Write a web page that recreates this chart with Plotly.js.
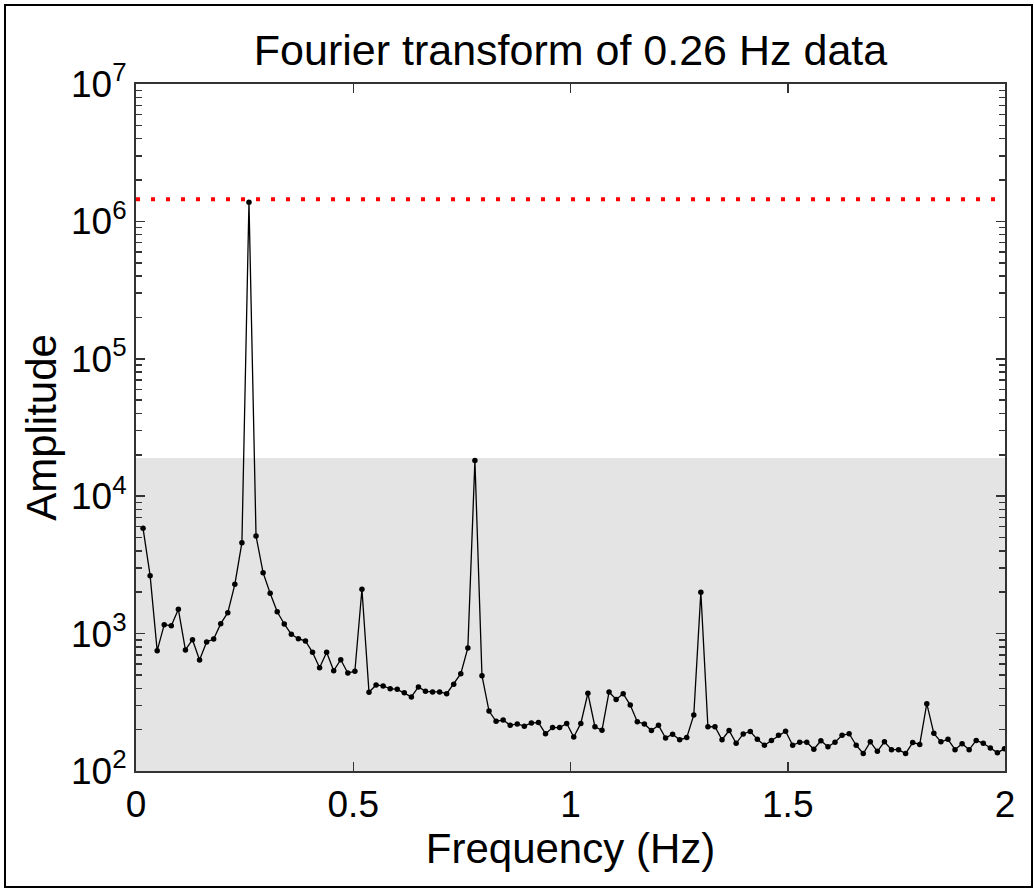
<!DOCTYPE html>
<html>
<head>
<meta charset="utf-8">
<script src="https://cdn.plot.ly/plotly-3.0.1.min.js"></script>
<style>
  html, body { margin: 0; padding: 0; background: #ffffff; }
  #wrap { position: relative; width: 1034px; height: 888px; }
  #chart { position: absolute; left: 0; top: 0; width: 1034px; height: 888px; }
  #frame { position: absolute; left: 4px; top: 4px; width: 1025px; height: 880px;
           border: 2px solid #000; pointer-events: none; box-sizing: content-box; }
</style>
</head>
<body>
<div id="wrap">
  <div id="chart"></div>
  <div id="frame"></div>
</div>
<script>
// Frequency bins (Hz)
const frequency = [
  0.01625, 0.0325, 0.04875, 0.065, 0.08125, 0.0975, 0.11375, 0.13, 0.14625, 0.1625,
  0.17875, 0.195, 0.21125, 0.2275, 0.24375, 0.26, 0.27625, 0.2925, 0.30875, 0.325,
  0.34125, 0.3575, 0.37375, 0.39, 0.40625, 0.4225, 0.43875, 0.455, 0.47125, 0.4875,
  0.50375, 0.52, 0.53625, 0.5525, 0.56875, 0.585, 0.60125, 0.6175, 0.63375, 0.65,
  0.66625, 0.6825, 0.69875, 0.715, 0.73125, 0.7475, 0.76375, 0.78, 0.79625, 0.8125,
  0.82875, 0.845, 0.86125, 0.8775, 0.89375, 0.91, 0.92625, 0.9425, 0.95875, 0.975,
  0.99125, 1.0075, 1.02375, 1.04, 1.05625, 1.0725, 1.08875, 1.105, 1.12125, 1.1375,
  1.15375, 1.17, 1.18625, 1.2025, 1.21875, 1.235, 1.25125, 1.2675, 1.28375, 1.3,
  1.31625, 1.3325, 1.34875, 1.365, 1.38125, 1.3975, 1.41375, 1.43, 1.44625, 1.4625,
  1.47875, 1.495, 1.51125, 1.5275, 1.54375, 1.56, 1.57625, 1.5925, 1.60875, 1.625,
  1.64125, 1.6575, 1.67375, 1.69, 1.70625, 1.7225, 1.73875, 1.755, 1.77125, 1.7875,
  1.80375, 1.82, 1.83625, 1.8525, 1.86875, 1.885, 1.90125, 1.9175, 1.93375, 1.95,
  1.96625, 1.9825, 1.99875
];

// Fourier amplitude at each bin
const amplitude = [
  5840, 2640, 751, 1161, 1141, 1503, 760, 903, 643, 869,
  913, 1181, 1419, 2284, 4587, 1380000, 5132, 2775, 1965, 1443,
  1175, 988, 918, 883, 731, 565, 731, 537, 646, 517,
  532, 2101, 374, 423, 416, 397, 393, 371, 346, 409,
  380, 376, 376, 365, 428, 511, 786, 18200, 494, 273,
  230, 235, 215, 220, 212, 224, 225, 187, 207, 207,
  222, 177, 222, 368, 210, 198, 376, 332, 365, 302,
  228, 220, 197, 215, 174, 185, 169, 175, 256, 1998,
  210, 210, 169, 197, 159, 186, 194, 170, 154, 167,
  182, 195, 154, 162, 162, 144, 166, 150, 162, 182,
  187, 154, 134, 163, 139, 163, 143, 143, 134, 161,
  156, 309, 188, 163, 170, 143, 158, 143, 167, 159,
  147, 136, 145
];

// Reference levels
const peakLevel = 1450000;      // red dotted line
const noiseCeiling = 19000;     // top of grey band
const freqSpan = [0, 2];

// Tick labels
const xTickVals = [0, 0.5, 1, 1.5, 2];
const xTickText = ['0', '0.5', '1', '1.5', '2'];
const yTickVals = [1e2, 1e3, 1e4, 1e5, 1e6, 1e7];
const yTickText = ['10<sup>2</sup>', '10<sup>3</sup>', '10<sup>4</sup>', '10<sup>5</sup>', '10<sup>6</sup>', '10<sup>7</sup>'];
const minorMultipliers = [2, 3, 4, 5, 6, 7, 8, 9];

// minor tick positions between the decades (axis styling, not data)
const yMinorVals = [];
yTickVals.slice(0, -1).forEach(d => minorMultipliers.forEach(m => yMinorVals.push(d * m)));

const FONT = 'Liberation Sans, Arial, Helvetica, sans-serif';
const AX = '#333333';

const traces = [
  {
    x: frequency, y: amplitude, type: 'scatter', mode: 'lines+markers',
    line: { color: '#000000', width: 1.3 },
    marker: { color: '#000000', size: 5.5 },
    hoverinfo: 'x+y', showlegend: false
  },
  {
    x: freqSpan, y: [peakLevel, peakLevel], type: 'scatter', mode: 'lines',
    line: { color: '#ff0000', width: 4, dash: '4px,11px' },
    hoverinfo: 'skip', showlegend: false
  }
];

const layout = {
  width: 1034, height: 888,
  margin: { l: 136, r: 29, t: 84, b: 117, pad: 0 },
  paper_bgcolor: '#ffffff', plot_bgcolor: '#ffffff',
  font: { family: FONT, color: '#000000' },
  title: {
    text: 'Fourier transform of 0.26 Hz data',
    font: { family: FONT, size: 43, color: '#000000' },
    xref: 'paper', x: 0.5, xanchor: 'center',
    yref: 'container', y: 1 - 50 / 888, yanchor: 'middle'
  },
  xaxis: {
    range: freqSpan, tickmode: 'array', tickvals: xTickVals, ticktext: xTickText,
    ticks: 'inside', ticklen: 9, tickwidth: 1.5, tickcolor: AX,
    showline: true, linecolor: AX, linewidth: 2, mirror: 'ticks',
    showgrid: false, zeroline: false,
    tickfont: { family: FONT, size: 37, color: '#000000' },
    title: { text: 'Frequency (Hz)', font: { family: FONT, size: 42, color: '#000000' }, standoff: 6 },
    automargin: false
  },
  yaxis: {
    type: 'log', range: [2, 7], tickmode: 'array', tickvals: yTickVals, ticktext: yTickText,
    ticks: 'inside', ticklen: 9, tickwidth: 1.5, tickcolor: AX,
    minor: { ticks: 'inside', ticklen: 6, tickwidth: 1.5, tickcolor: AX, tickmode: 'array', tickvals: yMinorVals, showgrid: false },
    showline: true, linecolor: AX, linewidth: 2, mirror: 'ticks',
    showgrid: false, zeroline: false,
    tickfont: { family: FONT, size: 37, color: '#000000' },
    title: { text: 'Amplitude', font: { family: FONT, size: 42, color: '#000000' }, standoff: 1 },
    automargin: false
  },
  shapes: [
    {
      type: 'rect', layer: 'below', xref: 'paper', x0: 0, x1: 1,
      yref: 'y', y0: 1, y1: noiseCeiling,
      fillcolor: '#e4e4e4', line: { width: 0 }
    }
  ]
};

Plotly.newPlot('chart', traces, layout, { displayModeBar: false, staticPlot: true });
</script>
</body>
</html>
